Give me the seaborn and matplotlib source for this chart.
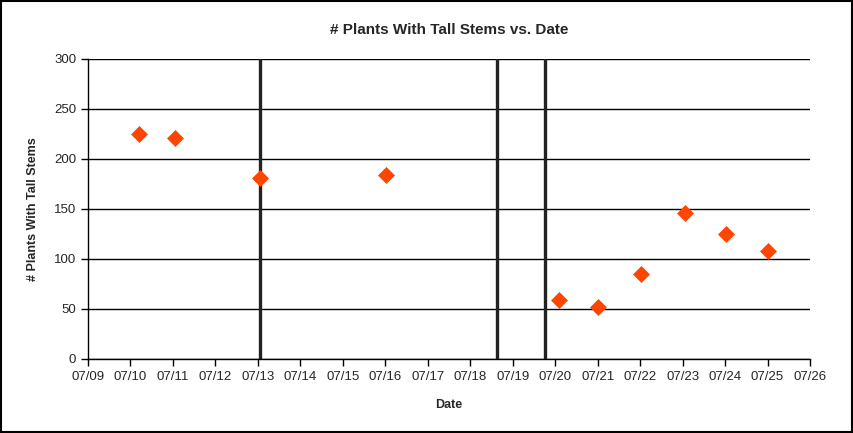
import matplotlib.pyplot as plt
import matplotlib.dates as mdates
import pandas as pd
import seaborn as sns

# Datos
fechas = ['2010-07-10 05:00', '2010-07-11 01:00', '2010-07-13 01:00',
          '2010-07-16 00:30', '2010-07-20 02:00', '2010-07-21 00:00',
          '2010-07-22 00:30', '2010-07-23 01:30', '2010-07-24 00:30',
          '2010-07-25 00:15']
plantas = [225, 221, 181, 184, 59, 52, 85, 146, 125, 108]
lineas_verticales = ['2010-07-13 01:15', '2010-07-18 15:00', '2010-07-19 18:15']

df = pd.DataFrame({'Date': pd.to_datetime(fechas), 'Plants': plantas})

sns.set_style('white')
plt.rcParams['font.family'] = ['Liberation Sans', 'DejaVu Sans']

fig = plt.figure(figsize=(8.54, 4.33), dpi=100)
ax = fig.add_axes([0.103, 0.171, 0.8455, 0.693])

for x in lineas_verticales:
    ax.axvline(pd.Timestamp(x), color='#222222', linewidth=2.4, zorder=2)

sns.scatterplot(data=df, x='Date', y='Plants', marker='D', s=66,
                color='#FF4500', edgecolor='#FF4500', linewidth=0.5,
                ax=ax, zorder=3)

ax.set_xlim(pd.Timestamp('2010-07-09'), pd.Timestamp('2010-07-26'))
ax.set_ylim(0, 300)
ax.set_yticks(range(0, 301, 50))
ax.xaxis.set_major_locator(mdates.DayLocator())
ax.xaxis.set_major_formatter(mdates.DateFormatter('%m/%d'))
ax.yaxis.grid(True, color='black', linewidth=1)
ax.set_axisbelow(True)

for lado in ['top', 'right']:
    ax.spines[lado].set_visible(False)
for lado in ['left', 'bottom']:
    ax.spines[lado].set_color('black')
    ax.spines[lado].set_linewidth(1)
ax.tick_params(axis='both', direction='out', length=5, width=1,
               color='black', labelsize=9.5, bottom=True, left=True)

ax.set_title('# Plants With Tall Stems vs. Date', fontsize=11,
             fontweight='bold', pad=18)
ax.set_xlabel('Date', fontsize=9, fontweight='bold', labelpad=12)
ax.set_ylabel('# Plants With Tall Stems', fontsize=9, fontweight='bold',
              labelpad=11)

fig.patches.append(plt.Rectangle((0.001, 0.002), 0.997, 0.996,
                                 transform=fig.transFigure, fill=False,
                                 edgecolor='black', linewidth=1.5))

fig.savefig('out.png', dpi=100)
